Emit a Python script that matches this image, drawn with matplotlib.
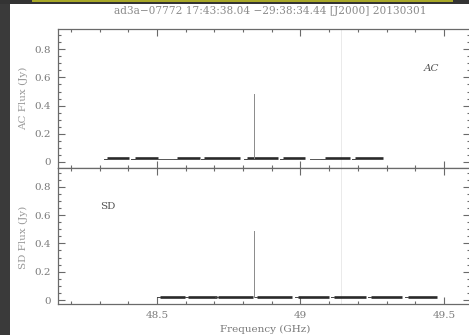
import numpy as np
import matplotlib
matplotlib.use('Agg')
import matplotlib.pyplot as plt
from matplotlib.patches import Rectangle
from matplotlib.ticker import MultipleLocator

# title and labels
title = 'ad3a\u221207772 17:43:38.04 \u221229:38:34.44 [J2000] 20130301'
xlabel = 'Frequency (GHz)'
ytick_vals = [0, 0.2, 0.4, 0.6, 0.8]
ytick_text = ['0', '0.2', '0.4', '0.6', '0.8']
xtick_vals = [48.5, 49.0, 49.5]
xtick_text = ['48.5', '49', '49.5']

# AC panel: noisy chunks (start, end GHz) sitting at a flux level
ac_chunks = [(48.326, 48.402), (48.423, 48.503), (48.570, 48.650),
             (48.664, 48.789), (48.814, 48.922), (48.939, 49.016),
             (49.085, 49.172), (49.190, 49.287)]
ac_level = 0.025
ac_gaps = [(48.503, 48.570), (49.033, 49.085)]
ac_gap_level = 0.018
ac_spike_freq = 48.838
ac_spike_peak = 0.48

# SD panel
sd_chunks = [(48.510, 48.598), (48.608, 48.709), (48.712, 48.834),
             (48.850, 48.972), (48.990, 49.101), (49.118, 49.230),
             (49.247, 49.355), (49.375, 49.476)]
sd_level = 0.022
sd_spike_freq = 48.838
sd_spike_peak = 0.49

grid_freq = 49.141

W, H = 469, 335
fig = plt.figure(figsize=(W / 100, H / 100), dpi=100)
fig.patch.set_facecolor('white')

txt_col = '#7a7a7a'
ax_col = '#6a6a6a'
font = 'DejaVu Serif'

left = 58 / W
width = 411.5 / W
ax1 = fig.add_axes([left, 0.5, width, 1 - 29 / H - 0.5])
ax2 = fig.add_axes([left, 1 - 304 / H, width, 0.5 - (1 - 304 / H)])

def style(ax, ylim, show_x):
    ax.set_xlim(48.155, 49.589)
    ax.set_ylim(*ylim)
    ax.xaxis.set_major_locator(MultipleLocator(0.5))
    ax.xaxis.set_minor_locator(MultipleLocator(0.1))
    ax.set_yticks(ytick_vals)
    ax.set_yticklabels(ytick_text, family=font, color=txt_col, fontsize=7.5)
    ax.yaxis.set_minor_locator(MultipleLocator(0.05))
    ax.tick_params(which='both', direction='in', top=True, right=True,
                   colors=ax_col, width=0.8)
    ax.tick_params(which='major', length=5, pad=5)
    ax.tick_params(which='minor', length=2.5)
    ax.tick_params(axis='y', labelcolor=txt_col)
    if show_x:
        ax.set_xticks(xtick_vals)
        ax.set_xticklabels(xtick_text, family=font, color=txt_col, fontsize=7.5)
        ax.xaxis.set_minor_locator(MultipleLocator(0.1))
    else:
        ax.set_xticklabels([])
    for s in ax.spines.values():
        s.set_color(ax_col)
        s.set_linewidth(0.9)
    ax.axvline(grid_freq, color='#e6e6e6', lw=0.6, zorder=0)

style(ax1, (-0.041, 0.945), False)
style(ax2, (-0.028, 0.936), True)

# draw chunks as a band (the noisy spectrum), thin line over gaps
for a, b in ac_chunks:
    ax1.plot([a, b], [ac_level, ac_level], color='#2a2a2a', lw=1.9,
             solid_capstyle='butt')
    ax1.plot([a - 0.012, a], [ac_level - 0.004, ac_level - 0.004],
             color='#444444', lw=0.7)
for a, b in ac_gaps:
    ax1.plot([a, b], [ac_gap_level, ac_gap_level], color='#555555', lw=0.7)
ax1.plot([ac_spike_freq, ac_spike_freq], [ac_level, ac_spike_peak],
         color='#8a8a8a', lw=0.7)

for a, b in sd_chunks:
    ax2.plot([a, b], [sd_level, sd_level], color='#2a2a2a', lw=1.9,
             solid_capstyle='butt')
    ax2.plot([a - 0.01, a], [sd_level - 0.004, sd_level - 0.004],
             color='#444444', lw=0.7)
ax2.plot([sd_spike_freq, sd_spike_freq], [sd_level, sd_spike_peak],
         color='#8a8a8a', lw=0.7)

ax1.text(49.455, 0.667, 'AC', family=font, color='#555555', fontsize=7.5,
         ha='center', va='center', style='italic')
ax2.text(48.33, 0.66, 'SD', family=font, color='#555555', fontsize=7.5,
         ha='center', va='center')

fig.text(270 / W, 1 - 11 / H, title, family=font, color='#8c8c8c',
         fontsize=7.6, ha='center', va='center')
fig.text(265 / W, 1 - 329 / H, xlabel, family=font, color=txt_col,
         fontsize=7.5, ha='center', va='center')
fig.text(23 / W, 1 - 98 / H, 'AC Flux (Jy)', family=font, color='#999999',
         fontsize=7.5, ha='center', va='center', rotation=90)
fig.text(23 / W, 1 - 237 / H, 'SD Flux (Jy)', family=font, color='#999999',
         fontsize=7.5, ha='center', va='center', rotation=90)

# window frame bits around the screenshot
fig.patches.append(Rectangle((0, 0), 9.5 / W, 1, transform=fig.transFigure,
                             facecolor='#3a3a3a', edgecolor='none', zorder=5))
fig.patches.append(Rectangle((0, 1 - 4 / H), 1, 4 / H, transform=fig.transFigure,
                             facecolor='#333333', edgecolor='none', zorder=5))
fig.patches.append(Rectangle((32 / W, 1 - 2 / H), (453 - 32) / W, 2 / H,
                             transform=fig.transFigure, facecolor='#a8a828',
                             edgecolor='none', zorder=6))

fig.savefig('out.png', dpi=100)
